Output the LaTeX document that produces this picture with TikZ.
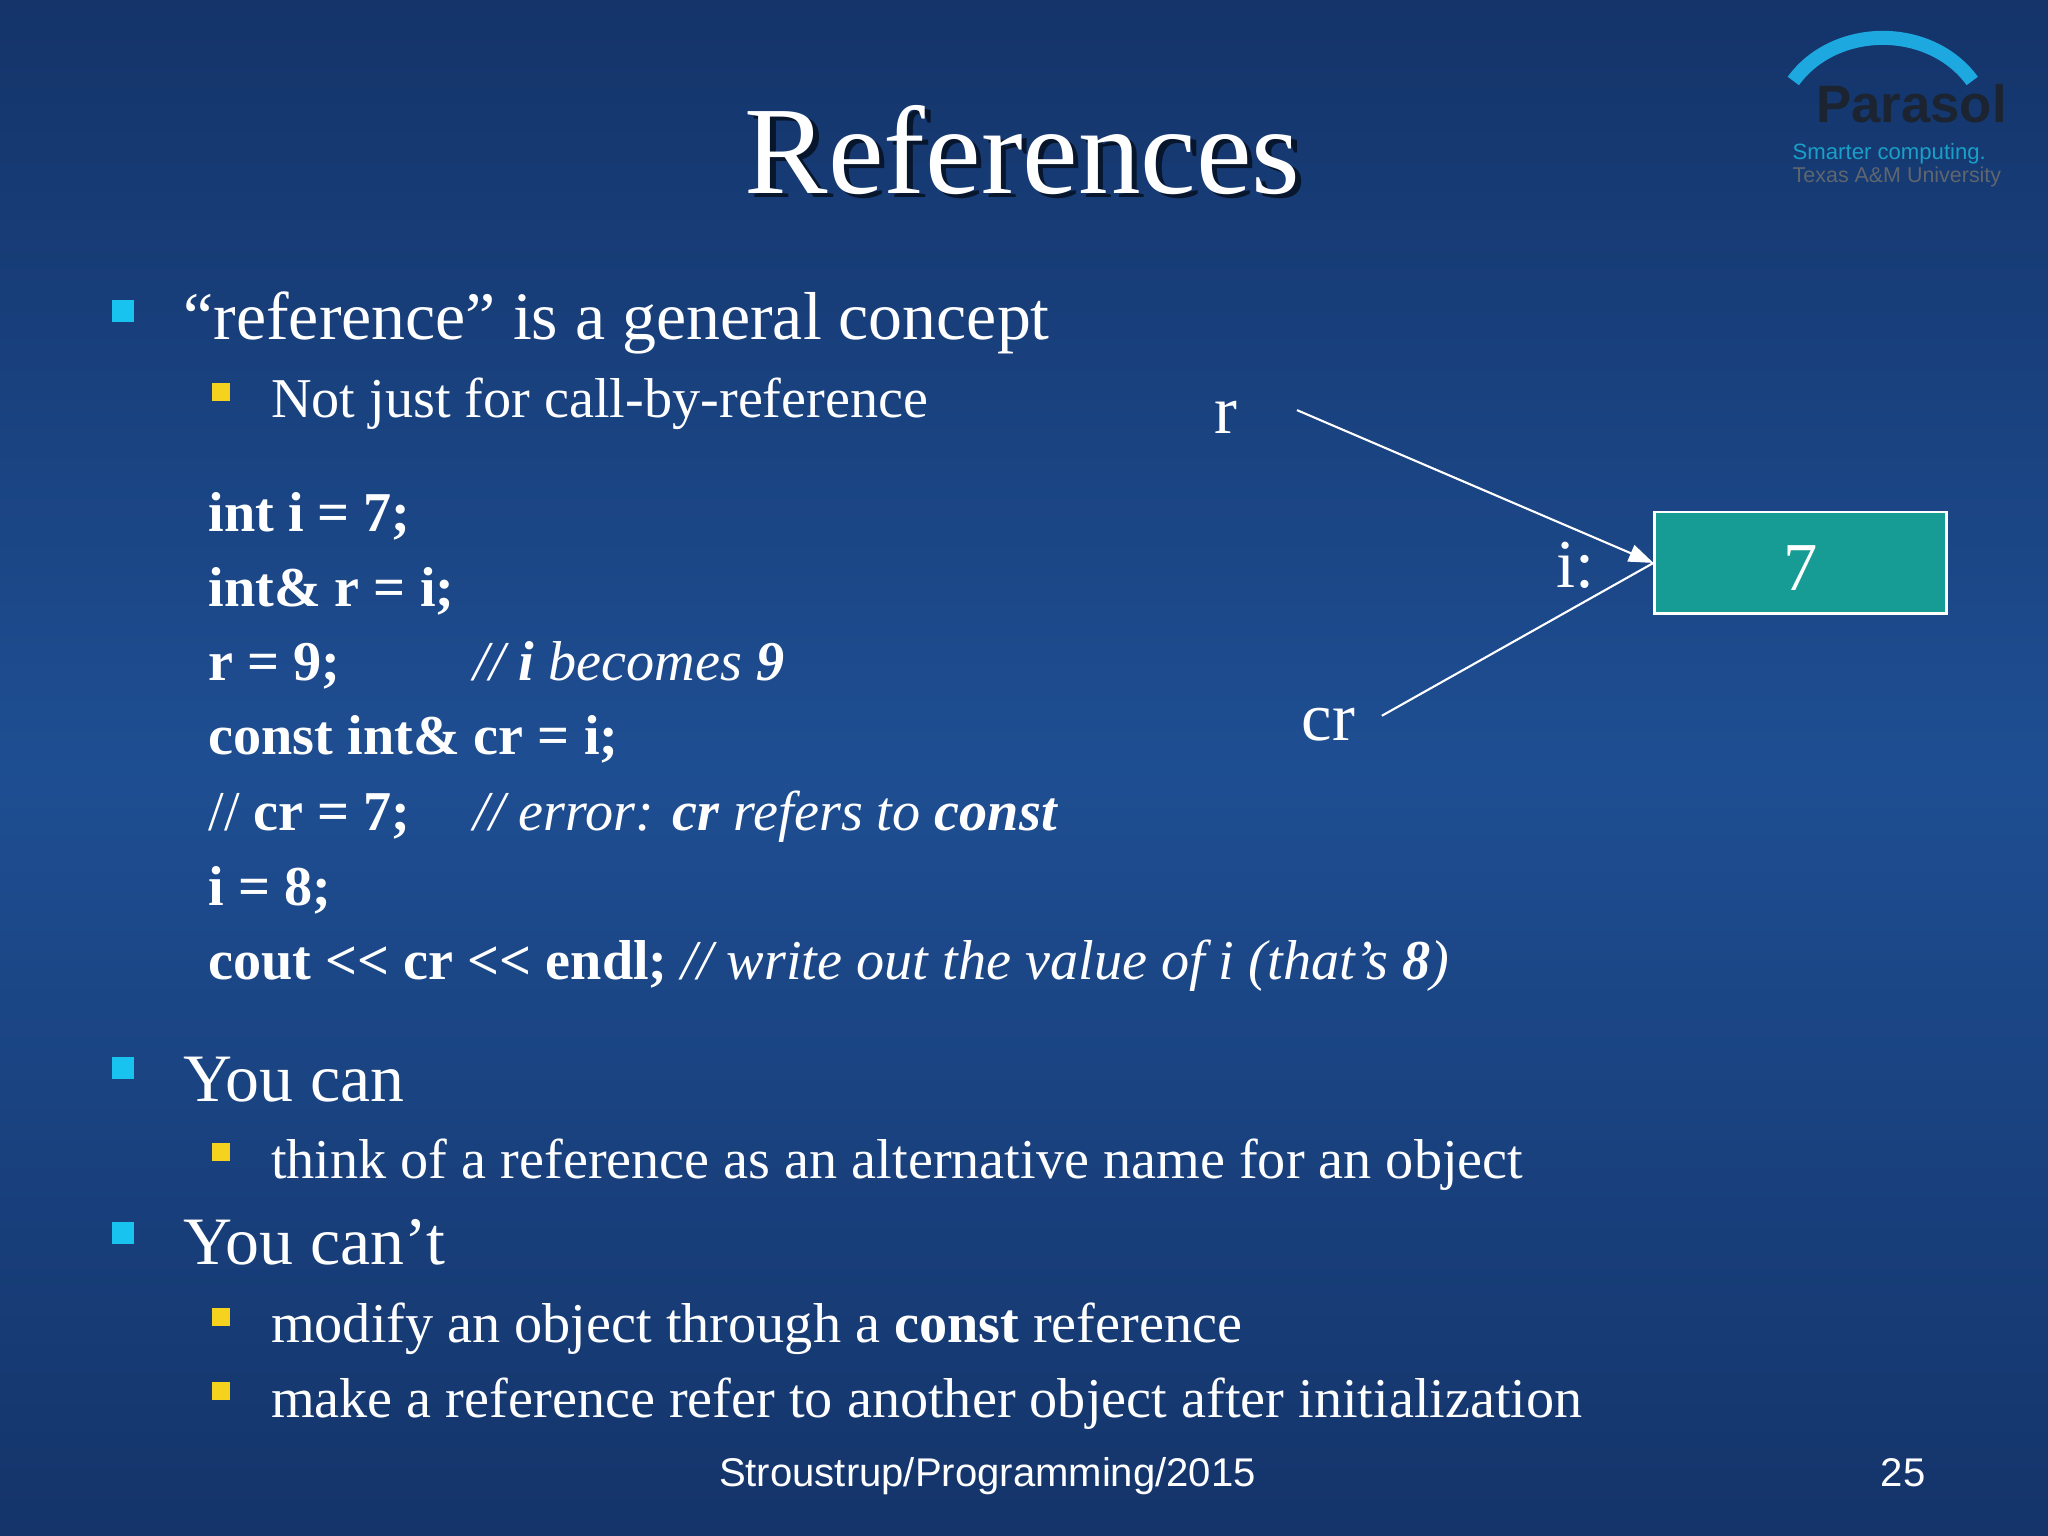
\documentclass[tikz,border=0pt]{standalone}
\usepackage{fontspec}
\setmainfont{Liberation Serif}
\newfontfamily\sfarial{Liberation Sans}
\usetikzlibrary{arrows.meta}
\definecolor{bgA}{HTML}{14346A}
\definecolor{bgB}{HTML}{1E4E92}
\definecolor{bullA}{HTML}{19C3F0}
\definecolor{bullB}{HTML}{F5D21E}
\definecolor{boxteal}{HTML}{169C94}
\definecolor{logoblue}{HTML}{1EA8E0}
\definecolor{logodark}{HTML}{1B2430}
\definecolor{logoteal}{HTML}{1A9FC8}
\begin{document}
\begin{tikzpicture}[x=0.013061cm,y=-0.013061cm,
 txt/.style={anchor=base west,text=white,inner sep=0pt},
 lone/.style={txt,font=\fontsize{19.3}{23}\selectfont},
 ltwo/.style={txt,font=\fontsize{16}{20}\selectfont},
 code/.style={txt,font=\fontsize{16}{20}\selectfont\bfseries},
 bulA/.style={fill=bullA,minimum size=0.22cm,inner sep=0pt},
 bulB/.style={fill=bullB,minimum size=0.18cm,inner sep=0pt},
 conn/.style={white,line width=0.6pt}]
\useasboundingbox (0,0) rectangle (1568,1176);
\shade[top color=bgA,bottom color=bgA,middle color=bgB] (0,0) rectangle (1568,1176);
% title
\node[anchor=base,text=black,opacity=0.6,font=\fontsize{35.6}{40}\selectfont] at (787,151) {References};
\node[anchor=base,text=white,font=\fontsize{35.6}{40}\selectfont] (title) at (783,148) {References};
% logo
\draw[logoblue,line width=4pt] (1373,62) .. controls (1405,18) and (1478,18) .. (1510,62);
\node[anchor=base west,inner sep=0pt,text=logodark,font=\sfarial\bfseries\fontsize{15}{16}\selectfont] (logo) at (1390,94) {Parasol};
\node[anchor=base west,inner sep=0pt,text=logoteal,font=\sfarial\fontsize{6.3}{7}\selectfont] (logo2) at (1372,122) {Smarter computing.};
\node[anchor=base west,inner sep=0pt,text=logodark!70,font=\sfarial\fontsize{6.1}{7}\selectfont] (logo3) at (1372,140) {Texas A\&M University};
% bullets
\node[bulA] (b1) at (94,238) {};
\node[lone] (t1) at (140,260) {“reference” is a general concept};
\node[bulB] (b2) at (169,300) {};
\node[ltwo] (t2) at (207,320) {Not just for call-by-reference};
\node[code] (c1) at (159,407) {int i = 7;};
\node[code] (c2) at (159,464) {int\& r = i;};
\node[code] (c3) at (159,521) {r = 9;};
\node[txt,font=\fontsize{16}{20}\selectfont\itshape] (c3b) at (362,521) {// \textbf{i} becomes \textbf{9}};
\node[code] (c4) at (159,578) {const int\& cr = i;};
\node[code] (c5) at (159,636) {\mdseries//\bfseries\ cr = 7;};
\node[txt,font=\fontsize{16}{20}\selectfont\itshape] (c5b) at (362,636) {// error: \textbf{cr} refers to \textbf{const}};
\node[code] (c6) at (159,693) {i = 8;};
\node[code] (c7) at (159,750) {cout {<}{<} cr {<}{<} endl; \mdseries\itshape // write out the value of i (that’s \bfseries 8\mdseries)};
\node[bulA] (b3) at (94,818) {};
\node[lone] (t3) at (140,843) {You can};
\node[bulB] (b4) at (169,882) {};
\node[ltwo] (t4) at (207,902) {think of a reference as an alternative name for an object};
\node[bulA] (b5) at (94,944) {};
\node[lone] (t5) at (140,968) {You can’t};
\node[bulB] (b6) at (169,1008) {};
\node[ltwo] (t6) at (207,1028) {modify an object through a \textbf{const} reference};
\node[bulB] (b7) at (169,1065) {};
\node[ltwo] (t7) at (207,1085) {make a reference refer to another object after initialization};
% diagram
\node[draw=white,fill=boxteal,line width=0.8pt,minimum width=223*0.013061cm,minimum height=78*0.013061cm,inner sep=0pt] (box) at (1378.5,431) {};
\node[anchor=center,text=white,font=\fontsize{19.5}{23}\selectfont] (seven) at (1378.5,435) {7};
\node[txt,font=\fontsize{19.5}{23}\selectfont] (lr) at (929,332) {r};
\node[txt,font=\fontsize{19.5}{23}\selectfont] (li) at (1191,450) {i:};
\node[txt,font=\fontsize{19.5}{23}\selectfont] (lcr) at (996,567) {cr};
\coordinate (rs) at (993,314);
\coordinate (cs) at (1058,548);
\draw[conn,-{Triangle[length=7pt,width=5pt]}] (rs) -- (box.west);
\draw[conn] (cs) -- (box.west);
% footer
\node[anchor=base,text=white,font=\sfarial\fontsize{11.4}{13}\selectfont] (foot) at (756,1138) {Stroustrup/Programming/2015};
\node[anchor=base,text=white,font=\sfarial\fontsize{11.4}{13}\selectfont] (pg) at (1457,1138) {25};
\end{tikzpicture}
\end{document}
